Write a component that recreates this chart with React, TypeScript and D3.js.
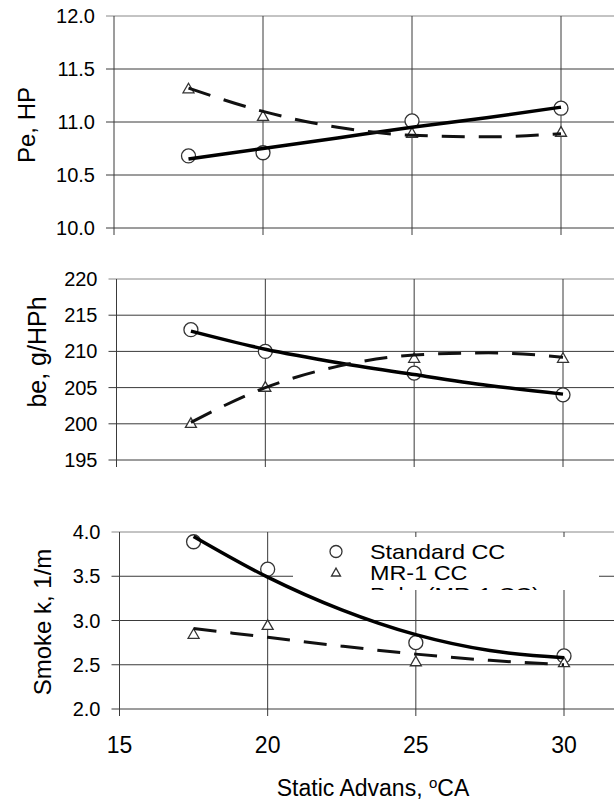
import React from "react";
import * as d3 from "d3";

const W = 614;
const H = 802;

// x positions of the measurements (static advance, deg CA)
const xPoints = [17.5, 20, 25, 30];
const xTrend = [17.5, 20, 22.5, 25, 27.5, 30];
const xTicks = [15, 20, 25, 30];

// Pe, HP
const peStandard = [10.68, 10.71, 11.01, 11.13];
const peMR1 = [11.31, 11.05, 10.89, 10.9];
const peStandardTrend = [10.65, 10.75, 10.85, 10.95, 11.04, 11.14];
const peMR1Trend = [11.32, 11.1, 10.95, 10.875, 10.86, 10.89];
const peTicks = [10.0, 10.5, 11.0, 11.5, 12.0];

// be, g/HPh
const beStandard = [213, 210, 207, 204];
const beMR1 = [200, 205, 209, 209];
const beStandardTrend = [212.8, 210.3, 208.4, 206.8, 205.3, 204.1];
const beMR1Trend = [200.2, 205.0, 208.0, 209.5, 209.8, 209.2];
const beTicks = [195, 200, 205, 210, 215, 220];

// Smoke k, 1/m
const smokeStandard = [3.89, 3.58, 2.75, 2.6];
const smokeMR1 = [2.84, 2.94, 2.53, 2.52];
const smokeStandardTrend = [3.95, 3.49, 3.12, 2.84, 2.66, 2.58];
const smokeMR1Trend = [2.91, 2.81, 2.71, 2.62, 2.55, 2.5];
const smokeTicks = [2.0, 2.5, 3.0, 3.5, 4.0];

const legendLabels = ["Standard CC", "MR-1 CC", "Poly. (MR-1 CC)"];

const font = "Liberation Sans, Arial, sans-serif";

const panels = [
  {
    title: "Pe, HP", titleX: 27, titleY: 125, titleSize: 24,
    xRange: [114, 561], yRange: [228, 16], yDomain: [10, 12], ticks: peTicks, fmt: d3.format(".1f"),
    std: peStandard, mr1: peMR1, stdTrend: peStandardTrend, mr1Trend: peMR1Trend,
  },
  {
    title: "be, g/HPh", titleX: 37, titleY: 352, titleSize: 25,
    xRange: [116.5, 563], yRange: [460, 279], yDomain: [195, 220], ticks: beTicks, fmt: d3.format("d"),
    std: beStandard, mr1: beMR1, stdTrend: beStandardTrend, mr1Trend: beMR1Trend,
  },
  {
    title: "Smoke k, 1/m", titleX: 43, titleY: 622, titleSize: 24,
    xRange: [119.5, 564], yRange: [709, 532], yDomain: [2, 4], ticks: smokeTicks, fmt: d3.format(".1f"),
    std: smokeStandard, mr1: smokeMR1, stdTrend: smokeStandardTrend, mr1Trend: smokeMR1Trend,
  },
];

const Triangle = ({ x, y, s = 11 }) => {
  const h = s * 0.87;
  return (
    <path
      d={`M${x},${y - h * 0.62} L${x + s / 2},${y + h * 0.38} L${x - s / 2},${y + h * 0.38} Z`}
      fill="white" stroke="#333" strokeWidth={1.3}
    />
  );
};

const Legend = () => {
  const lx = 336;
  const rows = [551.5, 573, 595];
  return (
    <g>
      <defs>
        <clipPath id="legendClip">
          <rect x={293} y={537} width={306} height={53} />
        </clipPath>
      </defs>
      <rect x={293} y={537} width={306} height={53} fill="white" />
      <g clipPath="url(#legendClip)">
        <circle cx={lx} cy={rows[0]} r={6} fill="white" stroke="#333" strokeWidth={1.3} />
        <Triangle x={lx} y={rows[1]} s={9} />
        {legendLabels.map((l, i) => (
          // legend text in the source is a little wider than Arial, so stretch it
          <text key={l} transform={`translate(370,${rows[i]}) scale(1.17,1)`} dy="0.35em"
            fontSize={20} fontFamily={font}>{l}</text>
        ))}
      </g>
    </g>
  );
};

const Panel = ({ p, last }) => {
  const x = d3.scaleLinear().domain([15, 30]).range(p.xRange);
  const y = d3.scaleLinear().domain(p.yDomain).range(p.yRange);
  const x0 = x(15);
  const yBottom = y(p.yDomain[0]);
  const yTop = y(p.yDomain[1]);

  const line = d3.line()
    .x((d) => x(d[0]))
    .y((d) => y(d[1]))
    .curve(d3.curveMonotoneX);

  return (
    <g>
      {/* horizontal grid */}
      {p.ticks.map((t, i) => (
        <g key={"h" + t}>
          <line x1={x0 - 8} x2={W} y1={y(t)} y2={y(t)}
            stroke={i === p.ticks.length - 1 ? "#888" : "#3a3a3a"} strokeWidth={1} />
          <text x={x0 - 19} y={y(t)} dy="0.35em" textAnchor="end" fontSize={20} fontFamily={font}>
            {p.fmt(t)}
          </text>
        </g>
      ))}
      {/* vertical grid */}
      {xTicks.map((t) => (
        <line key={"v" + t} x1={x(t)} x2={x(t)} y1={yTop} y2={yBottom + 7}
          stroke="#3a3a3a" strokeWidth={1} />
      ))}
      {last && xTicks.map((t) => (
        <text key={"xl" + t} x={x(t)} y={745} dy="0.35em" textAnchor="middle" fontSize={23} fontFamily={font}>
          {t}
        </text>
      ))}
      <text transform={`translate(${p.titleX},${p.titleY}) rotate(-90)`} textAnchor="middle" dy="0.35em"
        fontSize={p.titleSize} fontFamily={font}>
        {p.title}
      </text>

      {last && <Legend />}

      {/* markers */}
      {xPoints.map((xv, i) => (
        <circle key={"c" + i} cx={x(xv)} cy={y(p.std[i])} r={7} fill="white" stroke="#333" strokeWidth={1.3} />
      ))}
      {xPoints.map((xv, i) => (
        <Triangle key={"t" + i} x={x(xv)} y={y(p.mr1[i])} />
      ))}

      {/* trend lines */}
      <path d={line(xTrend.map((xv, i) => [xv, p.stdTrend[i]]))} fill="none" stroke="#000" strokeWidth={3.5} />
      <path d={line(xTrend.map((xv, i) => [xv, p.mr1Trend[i]]))} fill="none" stroke="#111"
        strokeWidth={3} strokeDasharray="23 14" />
    </g>
  );
};

export default function App() {
  return (
    <div>
      <svg width={W} height={H} style={{ position: "absolute", left: 0, top: 0, background: "white" }}>
        <rect width={W} height={H} fill="white" />
        {panels.map((p, i) => (
          <Panel key={p.title} p={p} last={i === panels.length - 1} />
        ))}
        <text x={373} y={796} textAnchor="middle" fontSize={23} fontFamily={font}>
          Static Advans, <tspan dy={-8} fontSize={15}>o</tspan><tspan dy={8}>CA</tspan>
        </text>
      </svg>
    </div>
  );
}
